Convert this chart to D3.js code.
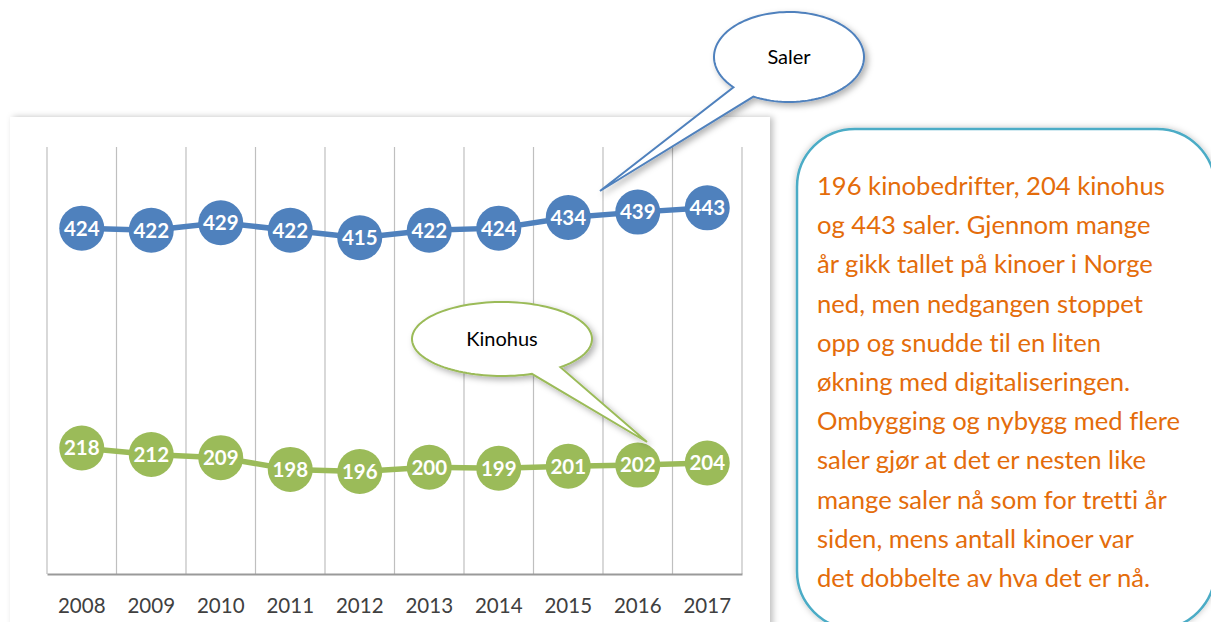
<!DOCTYPE html>
<html>
<head>
<meta charset="utf-8">
<script src="https://cdn.jsdelivr.net/npm/d3@7"></script>
<style>
  body { margin: 0; background: #fff; }
  svg { display: block; }
  text { font-variant-ligatures: none; font-feature-settings: "liga" 0; }
</style>
</head>
<body>
<svg id="chart" width="1211" height="622"></svg>
<script>
// data
const years = [2008, 2009, 2010, 2011, 2012, 2013, 2014, 2015, 2016, 2017]
const saler = [424, 422, 429, 422, 415, 422, 424, 434, 439, 443]
const kinohus = [218, 212, 209, 198, 196, 200, 199, 201, 202, 204]
const yDomain = [100, 500]
const noteLines = [
  "196 kinobedrifter, 204 kinohus",
  "og 443 saler. Gjennom mange",
  "år gikk tallet på kinoer i Norge",
  "ned, men nedgangen stoppet",
  "opp og snudde til en liten",
  "økning med digitaliseringen.",
  "Ombygging og nybygg med flere",
  "saler gjør at det er nesten like",
  "mange saler nå som for tretti år",
  "siden, mens antall kinoer var",
  "det dobbelte av hva det er nå."
]

const FONT = "Lato, 'Open Sans', sans-serif"
const svg = d3.select("#chart")

// shadows
const defs = svg.append("defs")
function shadow(id, dx, dy, sd, op) {
  defs.append("filter").attr("id", id)
    .attr("x", "-20%").attr("y", "-20%").attr("width", "140%").attr("height", "140%")
    .append("feDropShadow")
    .attr("dx", dx).attr("dy", dy).attr("stdDeviation", sd)
    .attr("flood-color", "#000").attr("flood-opacity", op)
}
shadow("panelShadow", 3, 0, 3, 0.25)
shadow("calloutShadow", 3, 3, 3, 0.3)
shadow("boxShadow", 0, 0, 3, 0.25)

// chart panel
svg.append("rect")
  .attr("x", 10).attr("y", 117).attr("width", 760).attr("height", 530)
  .attr("fill", "#fff").attr("filter", "url(#panelShadow)")

const x = d3.scaleBand().domain(years).range([47, 742]).padding(0)
const y = d3.scaleLinear().domain(yDomain).range([574, 147])

// vertical gridlines at category edges
const edges = years.map(d => x(d)).concat([x.range()[1]])
svg.append("g").selectAll("line")
  .data(edges)
  .enter().append("line")
  .attr("x1", d => d).attr("x2", d => d)
  .attr("y1", y(yDomain[1])).attr("y2", y(yDomain[0]))
  .attr("stroke", "#bfbfbf").attr("stroke-width", 1.2)

// x axis
const xAxis = svg.append("g")
  .attr("transform", "translate(0," + y(yDomain[0]) + ")")
  .call(d3.axisBottom(x).tickSize(0).tickPadding(24))
xAxis.select(".domain").attr("stroke", "#9a9a9a").attr("stroke-width", 2)
xAxis.selectAll("text")
  .attr("font-family", FONT).attr("font-size", 20.5).attr("fill", "#404040")

// series
function drawSeries(values, color) {
  const pts = years.map((yr, i) => [x(yr) + x.bandwidth() / 2, y(values[i]), values[i]])
  const g = svg.append("g")
  g.append("path")
    .attr("d", d3.line()(pts.map(p => [p[0], p[1]])))
    .attr("fill", "none").attr("stroke", color).attr("stroke-width", 5.5)
  g.selectAll("circle")
    .data(pts)
    .enter().append("circle")
    .attr("cx", d => d[0]).attr("cy", d => d[1]).attr("r", 22.5)
    .attr("fill", color)
  g.selectAll("text")
    .data(pts)
    .enter().append("text")
    .attr("x", d => d[0]).attr("y", d => d[1])
    .attr("dy", "0.36em")
    .attr("text-anchor", "middle")
    .attr("font-family", FONT).attr("font-weight", "bold").attr("font-size", 20.5)
    .attr("fill", "#fff")
    .text(d => d[2])
}
drawSeries(saler, "#4f81bd")
drawSeries(kinohus, "#9bbb59")

// speech-bubble callouts
function callout(cx, cy, rx, ry, b1, b2, tip, color, label) {
  const a1 = Math.atan2((b1[1] - cy) / ry, (b1[0] - cx) / rx)
  const a2 = Math.atan2((b2[1] - cy) / ry, (b2[0] - cx) / rx)
  let d = a2 - a1
  while (d > Math.PI) d -= 2 * Math.PI
  while (d <= -Math.PI) d += 2 * Math.PI
  // go the long way round from b1 to b2
  const span = -Math.sign(d) * (2 * Math.PI - Math.abs(d))
  const pts = []
  const n = 120
  for (let i = 0; i <= n; i++) {
    const a = a1 + span * i / n
    pts.push([cx + rx * Math.cos(a), cy + ry * Math.sin(a)])
  }
  pts.push(tip)
  svg.append("path")
    .attr("d", d3.line()(pts) + "Z")
    .attr("fill", "#fff").attr("stroke", color).attr("stroke-width", 2)
    .attr("stroke-linejoin", "miter")
    .attr("filter", "url(#calloutShadow)")
  svg.append("text")
    .attr("x", cx).attr("y", cy).attr("dy", "0.36em")
    .attr("text-anchor", "middle")
    .attr("font-family", FONT).attr("font-size", 20).attr("fill", "#000")
    .text(label)
}
callout(789, 57, 75, 45, [732, 88], [753, 97], [600, 191], "#4f81bd", "Saler")
callout(502, 339, 90, 37, [560, 367], [532, 374], [647, 442], "#9bbb59", "Kinohus")

// text box
svg.append("rect")
  .attr("x", 797).attr("y", 129).attr("width", 418).attr("height", 500)
  .attr("rx", 58).attr("ry", 58)
  .attr("fill", "#fff").attr("stroke", "#4bacc6").attr("stroke-width", 2.5)
  .attr("filter", "url(#boxShadow)")

const note = svg.append("g")
note.selectAll("text")
  .data(noteLines)
  .enter().append("text")
  .attr("x", 817)
  .attr("y", (d, i) => 195 + i * 39.2)
  .attr("font-family", FONT).attr("font-size", 22)
  .attr("fill", "#e46c0a")
  .text(d => d)
// fit the first line to the width seen in the picture
const first = note.select("text").node()
const fs = 22 * 348 / first.getComputedTextLength()
note.selectAll("text").attr("font-size", fs)
</script>
</body>
</html>
